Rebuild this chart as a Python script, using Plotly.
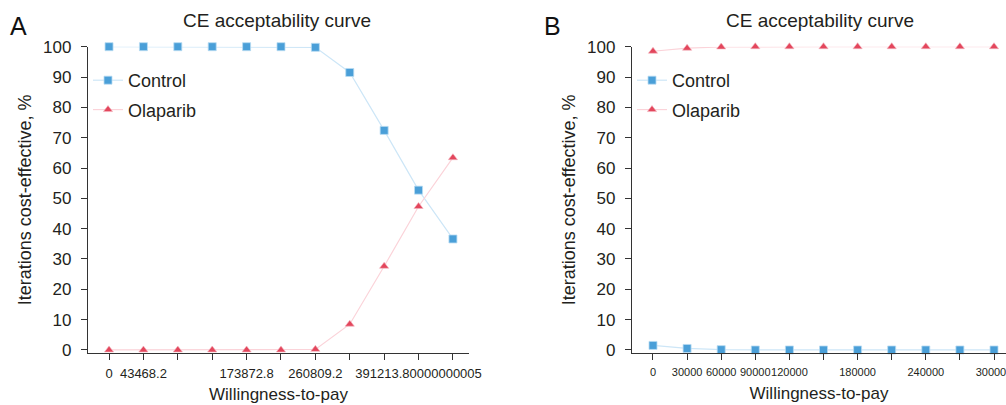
import plotly.graph_objects as go

# ---------------- data ----------------
wtp_a = [0, 43468.2, 86936.4, 130404.6, 173872.8, 217341.0, 260809.2,
         304277.4, 347745.6, 391213.8, 434682.0]
tick_text_a = ["0", "43468.2", "", "", "173872.8", "", "260809.2", "", "",
               "391213.80000000005", ""]
control_a = [100, 100, 100, 100, 100, 100, 99.8, 91.5, 72.4, 52.7, 36.6]
olaparib_a = [0, 0, 0, 0, 0, 0, 0.2, 8.5, 27.6, 47.3, 63.4]

wtp_b = [0, 30000, 60000, 90000, 120000, 150000, 180000, 210000, 240000,
         270000, 300000]
tick_text_b = ["0", "30000", "60000", "90000", "120000", "", "180000", "",
               "240000", "", "300000"]
control_b = [1.5, 0.5, 0.1, 0, 0, 0, 0, 0, 0, 0, 0]
olaparib_b = [98.5, 99.5, 99.9, 100, 100, 100, 100, 100, 100, 100, 100]

y_ticks = list(range(0, 101, 10))
series_names = ["Control", "Olaparib"]

# ---------------- styles ----------------
W, H = 1006, 405
FONT = "Liberation Sans, Arial, Helvetica, sans-serif"
TXT = "#231f20"
BLUE = "#4a9fd8"
BLUE_LINE = "#cde6f7"
RED = "#e3465c"
RED_LINE = "#fbd3d9"

fig = go.Figure()


def add_panel(x, ctrl, olap, xa, ya, legend):
    fig.add_trace(go.Scatter(
        x=x, y=ctrl, name=series_names[0], mode="lines+markers",
        xaxis=xa, yaxis=ya, legend=legend, legendgroup=legend + "c",
        line=dict(color=BLUE_LINE, width=1.2),
        marker=dict(symbol="square", size=8, color=BLUE,
                    line=dict(color="#b9dcf2", width=0.8)),
        cliponaxis=False))
    fig.add_trace(go.Scatter(
        x=x, y=olap, name=series_names[1], mode="lines+markers",
        xaxis=xa, yaxis=ya, legend=legend, legendgroup=legend + "o",
        line=dict(color=RED_LINE, width=1.2),
        marker=dict(symbol="triangle-up", size=8, color=RED,
                    line=dict(color="#f4b5bf", width=0.6)),
        cliponaxis=False))


add_panel(wtp_a, control_a, olaparib_a, "x", "y", "legend")
add_panel(wtp_b, control_b, olaparib_b, "x2", "y2", "legend2")

axis_common = dict(
    showline=True, linecolor="#333333", linewidth=1.3,
    ticks="outside", ticklen=6, tickcolor="#333333", tickwidth=1.3,
    showgrid=False, zeroline=False, mirror=False, automargin=False,
)

ydom = [1 - 353 / H, 1 - 46.7 / H]

fig.update_layout(
    width=W, height=H,
    margin=dict(l=0, r=0, t=0, b=0, autoexpand=False),
    paper_bgcolor="white", plot_bgcolor="white",
    font=dict(family=FONT, color=TXT),
    showlegend=True,
    xaxis=dict(
        domain=[88 / W, 469 / W],
        range=[-26600, 455000],
        tickmode="array", tickvals=wtp_a, ticktext=tick_text_a,
        tickfont=dict(size=13, color=TXT), tickangle=0, ticklabelstandoff=2,
        ticklabeloverflow="allow",
        title=dict(text="Willingness-to-pay", font=dict(size=17, color=TXT),
                   standoff=8),
        anchor="y", **axis_common),
    yaxis=dict(
        domain=ydom, range=[-1, 100],
        tickmode="array", tickvals=y_ticks,
        tickfont=dict(size=17, color=TXT), ticklabelstandoff=6,
        title=dict(text="Iterations cost-effective, %",
                   font=dict(size=18, color=TXT), standoff=6),
        anchor="x", **axis_common),
    xaxis2=dict(
        domain=[632 / W, 1.0],
        range=[-18470, 310560],
        tickmode="array", tickvals=wtp_b, ticktext=tick_text_b,
        tickfont=dict(size=11, color=TXT), tickangle=0, ticklabelstandoff=3,
        ticklabeloverflow="allow",
        title=dict(text="Willingness-to-pay", font=dict(size=17, color=TXT),
                   standoff=9),
        anchor="y2", **axis_common),
    yaxis2=dict(
        domain=ydom, range=[-1, 100],
        tickmode="array", tickvals=y_ticks,
        tickfont=dict(size=17, color=TXT), ticklabelstandoff=6,
        title=dict(text="Iterations cost-effective, %",
                   font=dict(size=18, color=TXT), standoff=6),
        anchor="x2", **axis_common),
    legend=dict(
        x=88 / W, y=1 - 62 / H, xanchor="left", yanchor="top",
        font=dict(size=18, color=TXT), bgcolor="rgba(0,0,0,0)",
        tracegroupgap=3, itemwidth=30),
    legend2=dict(
        x=632 / W, y=1 - 62 / H, xanchor="left", yanchor="top",
        font=dict(size=18, color=TXT), bgcolor="rgba(0,0,0,0)",
        tracegroupgap=3, itemwidth=30),
    annotations=[
        dict(text="CE acceptability curve", x=277 / W, y=1 - 20 / H,
             xref="paper", yref="paper", xanchor="center", yanchor="middle",
             showarrow=False, font=dict(size=19, color=TXT)),
        dict(text="CE acceptability curve", x=820 / W, y=1 - 20 / H,
             xref="paper", yref="paper", xanchor="center", yanchor="middle",
             showarrow=False, font=dict(size=19, color=TXT)),
        dict(text="A", x=8 / W, y=1 - 26 / H, xref="paper", yref="paper",
             xanchor="left", yanchor="middle", showarrow=False,
             font=dict(size=25, color="#111111")),
        dict(text="B", x=542 / W, y=1 - 26 / H, xref="paper", yref="paper",
             xanchor="left", yanchor="middle", showarrow=False,
             font=dict(size=25, color="#111111")),
    ],
)

fig.write_html(
    "out.html",
    config={"displayModeBar": False},
    post_script="document.body.style.margin='0';"
                "document.body.style.overflow='hidden';",
)
